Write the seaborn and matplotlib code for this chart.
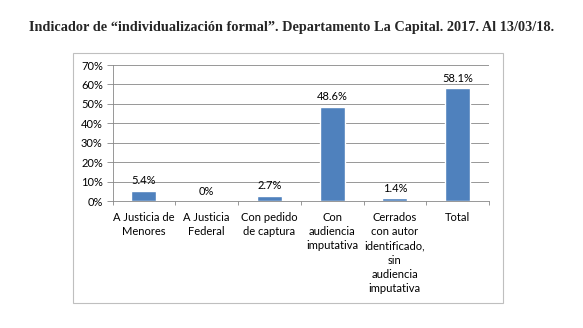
import matplotlib
matplotlib.use("Agg")
import matplotlib.pyplot as plt
import seaborn as sns
import pandas as pd
from matplotlib.patches import Rectangle
from matplotlib.ticker import FuncFormatter, MultipleLocator, FixedLocator

categories = ["A Justicia de\nMenores", "A Justicia\nFederal", "Con pedido\nde captura",
              "Con\naudiencia\nimputativa", "Cerrados\ncon autor\nidentificado,\nsin\naudiencia\nimputativa",
              "Total"]
values = [5.4, 0.0, 2.7, 48.6, 1.4, 58.1]
labels = ["5.4%", "0%", "2.7%", "48.6%", "1.4%", "58.1%"]
title = "Indicador de “individualización formal”. Departamento La Capital. 2017. Al 13/03/18."

sns.set_theme(style="white")
plt.rcParams['font.family'] = ['Lato', 'DejaVu Sans']

fig = plt.figure(figsize=(5.83, 3.28), dpi=100)
fig.patch.set_facecolor("white")
ax = fig.add_axes([112.5/583, 1-201/328, (489-112.5)/583, (201-65)/328])

df = pd.DataFrame({"cat": categories, "val": values})
sns.barplot(data=df, x="cat", y="val", color="#4F81BD", saturation=1, width=0.4, ax=ax)

for i, (v, t) in enumerate(zip(values, labels)):
    ax.text(i, v + 2.2, t, ha="center", va="bottom", fontsize=8, color="#000000")

ax.set_ylim(0, 70)
ax.set_xlim(-0.5, len(categories) - 0.5)
ax.yaxis.set_major_locator(MultipleLocator(10))
ax.yaxis.set_major_formatter(FuncFormatter(lambda v, p: f"{int(v)}%"))
ax.grid(axis="y", color="#878787", linewidth=0.6)
ax.set_axisbelow(True)
ax.set_xlabel("")
ax.set_ylabel("")

for s in ["top", "right"]:
    ax.spines[s].set_visible(False)
for s in ["left", "bottom"]:
    ax.spines[s].set_color("#878787")
    ax.spines[s].set_linewidth(0.6)

ax.tick_params(axis="x", which="major", length=0, labelsize=8, pad=8, colors="#000000")
for lbl in ax.get_xticklabels():
    lbl.set_linespacing(1.35)
ax.xaxis.set_minor_locator(FixedLocator([i - 0.5 for i in range(len(categories) + 1)]))
ax.tick_params(axis="x", which="minor", length=3, width=0.6, color="#878787", bottom=True)
ax.tick_params(axis="y", which="major", length=4, width=0.6, color="#878787", left=True,
               labelsize=8, pad=3, labelcolor="#000000")

fig.patches.append(Rectangle((72.5/583, 1-303/328), (503-72.5)/583, (303-52.5)/328,
                             transform=fig.transFigure, fill=False,
                             edgecolor="#BFBFBF", linewidth=0.8))

fig.text(0.5, 1-28/328, title, ha="center", va="center", fontsize=10.3,
         fontweight="bold", family=["Liberation Serif", "DejaVu Serif"])

fig.savefig("out.png", dpi=100)
